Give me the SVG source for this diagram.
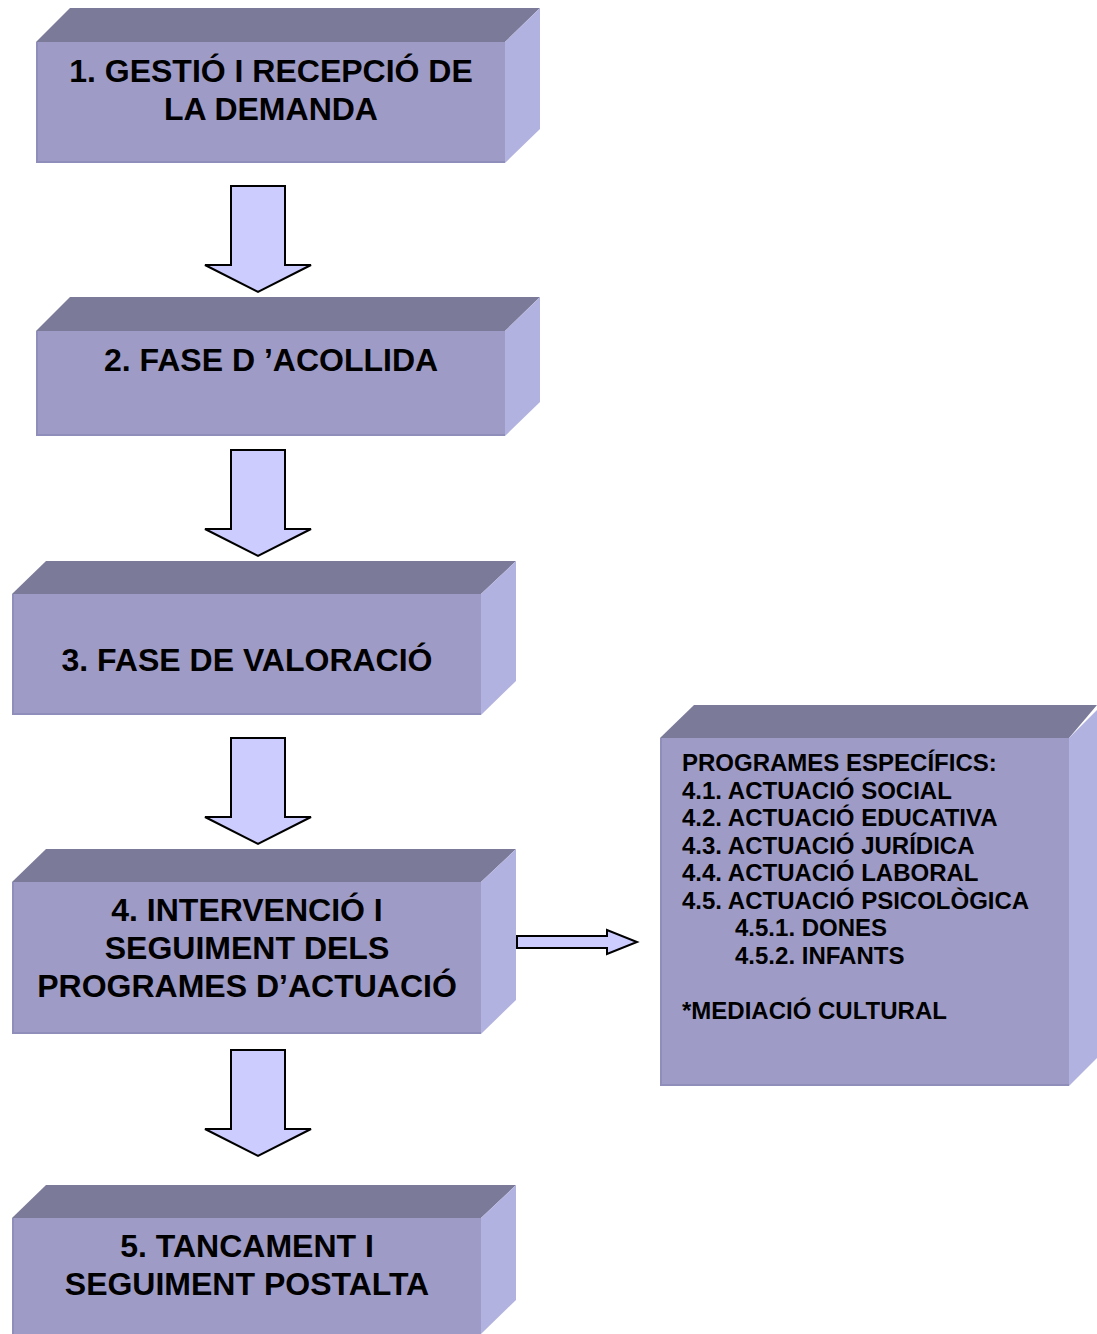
<svg xmlns="http://www.w3.org/2000/svg" width="1097" height="1334" viewBox="0 0 1097 1334">
<style>
.front{fill:#9e9cc6}
.top{fill:#7b7a99}
.side{fill:#b2b2e0}
.edge{fill:none;stroke:#8f8dba;stroke-width:2}
.t{font-family:"Liberation Sans",Arial,sans-serif;font-weight:bold;font-size:32px;fill:#000;text-anchor:middle}
.s{font-family:"Liberation Sans",Arial,sans-serif;font-weight:bold;font-size:24px;fill:#000}
.arr{fill:#ccccff;stroke:#000;stroke-width:2;stroke-linejoin:miter}
</style>
<rect width="1097" height="1334" fill="#fff"/>
<g id="node1">
<polygon class="top" points="36,42 70,8 540,8 505,42"/>
<polygon class="side" points="505,42 540,8 540,129 505,163"/>
<rect class="front" x="36" y="42" width="469" height="121"/>
<polyline class="edge" points="37,42 37,162 505,162"/>
<text class="t" x="271" y="82">1. GESTIÓ I RECEPCIÓ DE</text>
<text class="t" x="271" y="120">LA DEMANDA</text>
</g>
<g id="node2">
<polygon class="top" points="36,331 70,297 540,297 505,331"/>
<polygon class="side" points="505,331 540,297 540,402 505,436"/>
<rect class="front" x="36" y="331" width="469" height="105"/>
<polyline class="edge" points="37,331 37,435 505,435"/>
<text class="t" x="271" y="371">2. FASE D ’ACOLLIDA</text>
</g>
<g id="node3">
<polygon class="top" points="12,594 46,561 516,561 481,594"/>
<polygon class="side" points="481,594 516,561 516,681 481,715"/>
<rect class="front" x="12" y="594" width="469" height="121"/>
<polyline class="edge" points="13,594 13,714 481,714"/>
<text class="t" x="247" y="671">3. FASE DE VALORACIÓ</text>
</g>
<g id="node4">
<polygon class="top" points="12,882 46,849 516,849 481,882"/>
<polygon class="side" points="481,882 516,849 516,1000 481,1034"/>
<rect class="front" x="12" y="882" width="469" height="152"/>
<polyline class="edge" points="13,882 13,1033 481,1033"/>
<text class="t" x="247" y="921">4. INTERVENCIÓ I</text>
<text class="t" x="247" y="959">SEGUIMENT DELS</text>
<text class="t" x="247" y="997">PROGRAMES D’ACTUACIÓ</text>
</g>
<g id="node5">
<polygon class="top" points="12,1218 46,1185 516,1185 481,1218"/>
<polygon class="side" points="481,1218 516,1185 516,1300 481,1334"/>
<rect class="front" x="12" y="1218" width="469" height="116"/>
<polyline class="edge" points="13,1218 13,1334"/>
<text class="t" x="247" y="1257">5. TANCAMENT I</text>
<text class="t" x="247" y="1295">SEGUIMENT POSTALTA</text>
</g>
<g id="node6">
<polygon class="top" points="660,738 694,705 1097,705 1069,738"/>
<polygon class="side" points="1069,738 1097,710 1097,1058 1069,1086"/>
<rect class="front" x="660" y="738" width="409" height="348"/>
<polyline class="edge" points="661,738 661,1085 1069,1085"/>
<text class="s" x="682" y="771">PROGRAMES ESPECÍFICS:</text>
<text class="s" x="682" y="798.5">4.1. ACTUACIÓ SOCIAL</text>
<text class="s" x="682" y="826">4.2. ACTUACIÓ EDUCATIVA</text>
<text class="s" x="682" y="853.5">4.3. ACTUACIÓ JURÍDICA</text>
<text class="s" x="682" y="881">4.4. ACTUACIÓ LABORAL</text>
<text class="s" x="682" y="908.5">4.5. ACTUACIÓ PSICOLÒGICA</text>
<text class="s" x="735" y="936">4.5.1. DONES</text>
<text class="s" x="735" y="963.5">4.5.2. INFANTS</text>
<text class="s" x="682" y="1018.5">*MEDIACIÓ CULTURAL</text>
</g>
<g id="connectors">
<polygon class="arr" points="231,186 285,186 285,265 311,265 258,292 205,265 231,265"/>
<polygon class="arr" points="231,450 285,450 285,529 311,529 258,556 205,529 231,529"/>
<polygon class="arr" points="231,738 285,738 285,817 311,817 258,844 205,817 231,817"/>
<polygon class="arr" points="231,1050 285,1050 285,1129 311,1129 258,1156 205,1129 231,1129"/>
<polygon class="arr" points="517,936 607,936 607,930 637,942 607,954 607,948 517,948"/>
</g>
</svg>
